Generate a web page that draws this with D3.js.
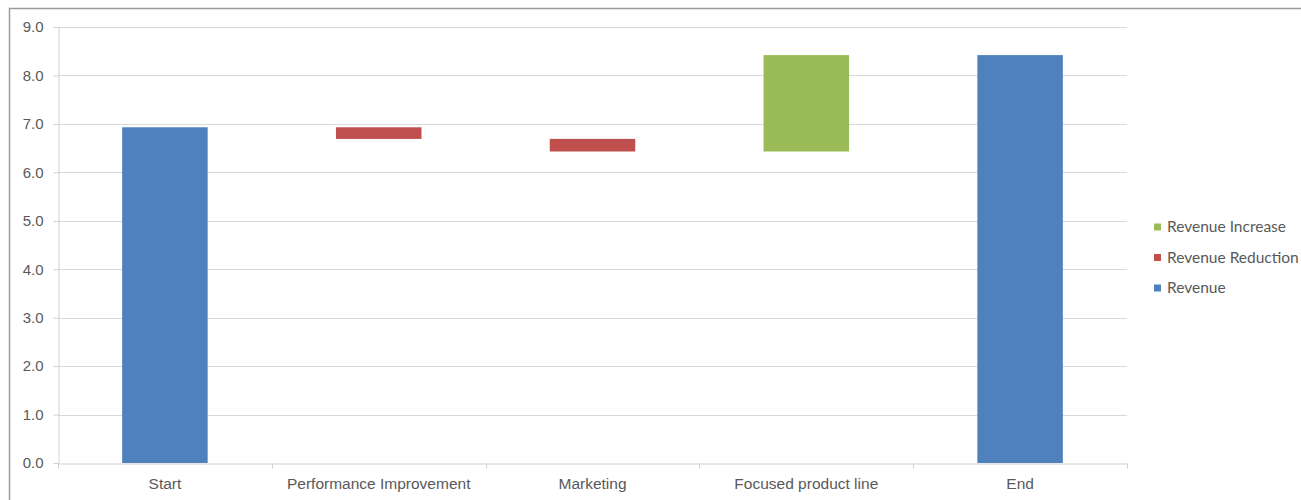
<!DOCTYPE html>
<html><head><meta charset="utf-8">
<script src="https://cdn.jsdelivr.net/npm/d3@7"></script>
<style>body{margin:0;background:#fff;} svg{display:block;font-family:Lato, "Open Sans", sans-serif;}</style>
</head><body>
<svg id="c" width="1301" height="500"></svg>
<script>
const categories = ["Start","Performance Improvement","Marketing","Focused product line","End"];
const baseValues = [0, 6.69, 6.43, 6.43, 0];
const revenue = [6.93, 0, 0, 0, 8.42];
const revenueReduction = [0, 0.24, 0.26, 0, 0];
const revenueIncrease = [0, 0, 0, 1.99, 0];
const yTicks = [0,1,2,3,4,5,6,7,8,9];
const legendItems = [["Revenue Increase","#9bbb59"],["Revenue Reduction","#c0504d"],["Revenue","#4f81bd"]];

const svg = d3.select("#c");
svg.append("rect").attr("x",9.5).attr("y",8.5).attr("width",1400).attr("height",600)
  .attr("fill","none").attr("stroke","#9a9a9a").attr("stroke-width",1.5);

const x = d3.scaleBand().domain(categories).range([58,1127]).paddingInner(0.6).paddingOuter(0.3);
const xb = d3.scaleBand().domain(categories).range([58,1127]);
const y = d3.scaleLinear().domain([0,9]).range([463,27]);

// gridlines
svg.append("g").selectAll("line").data(yTicks.slice(1)).join("line")
  .attr("x1",58).attr("x2",1127).attr("y1",d=>Math.round(y(d))+0.5).attr("y2",d=>Math.round(y(d))+0.5)
  .attr("stroke","#d9d9d9").attr("stroke-width",1);

const rows = categories.map((c,i)=>({cat:c, base:baseValues[i], revenue:revenue[i], reduction:revenueReduction[i], increase:revenueIncrease[i]}));
const stack = d3.stack().keys(["base","revenue","reduction","increase"])(rows);
const colors = {base:"none", revenue:"#4f81bd", reduction:"#c0504d", increase:"#9bbb59"};
stack.forEach(s=>{
  if(s.key==="base") return;
  svg.append("g").selectAll("rect").data(s.filter(d=>d[1]-d[0]>0)).join("rect")
    .attr("x",d=>x(d.data.cat)).attr("width",x.bandwidth())
    .attr("y",d=>y(d[1])).attr("height",d=>y(d[0])-y(d[1]))
    .attr("fill",colors[s.key]);
});

// y axis
const ya = svg.append("g").attr("transform","translate(58.5,0)")
  .call(d3.axisLeft(y).tickValues(yTicks).tickFormat(d3.format(".1f")).tickSize(5).tickSizeOuter(0));
ya.select(".domain").attr("stroke","#d0d0d0");
ya.selectAll(".tick line").attr("stroke","#d0d0d0");
ya.selectAll("text").attr("fill","#595959").attr("font-size",15).attr("x",-15);

// x axis
const xa = svg.append("g").attr("transform","translate(0,463.5)")
  .call(d3.axisBottom(xb).tickSize(0).tickSizeOuter(0));
xa.select(".domain").attr("stroke","#d0d0d0");
xa.selectAll("text").attr("fill","#595959").attr("font-size",15.5).attr("dy","1.45em");
const tickPos = categories.map(c=>xb(c)).concat([xb.range()[1]]);
xa.selectAll(".bt").data(tickPos).join("line").attr("class","bt")
  .attr("x1",d=>Math.round(d)+0.5).attr("x2",d=>Math.round(d)+0.5).attr("y1",0).attr("y2",5).attr("stroke","#d0d0d0");

// legend
const lg = svg.append("g").attr("transform","translate(1154,0)");
legendItems.forEach(([t,c],i)=>{
  const yy = 227 + i*30.5;
  lg.append("rect").attr("x",0).attr("y",yy-3.5).attr("width",7).attr("height",7).attr("fill",c);
  lg.append("text").attr("x",13).attr("y",yy).attr("dy","0.35em").attr("font-size",15.5).attr("fill","#595959").text(t);
});
</script>
</body></html>
